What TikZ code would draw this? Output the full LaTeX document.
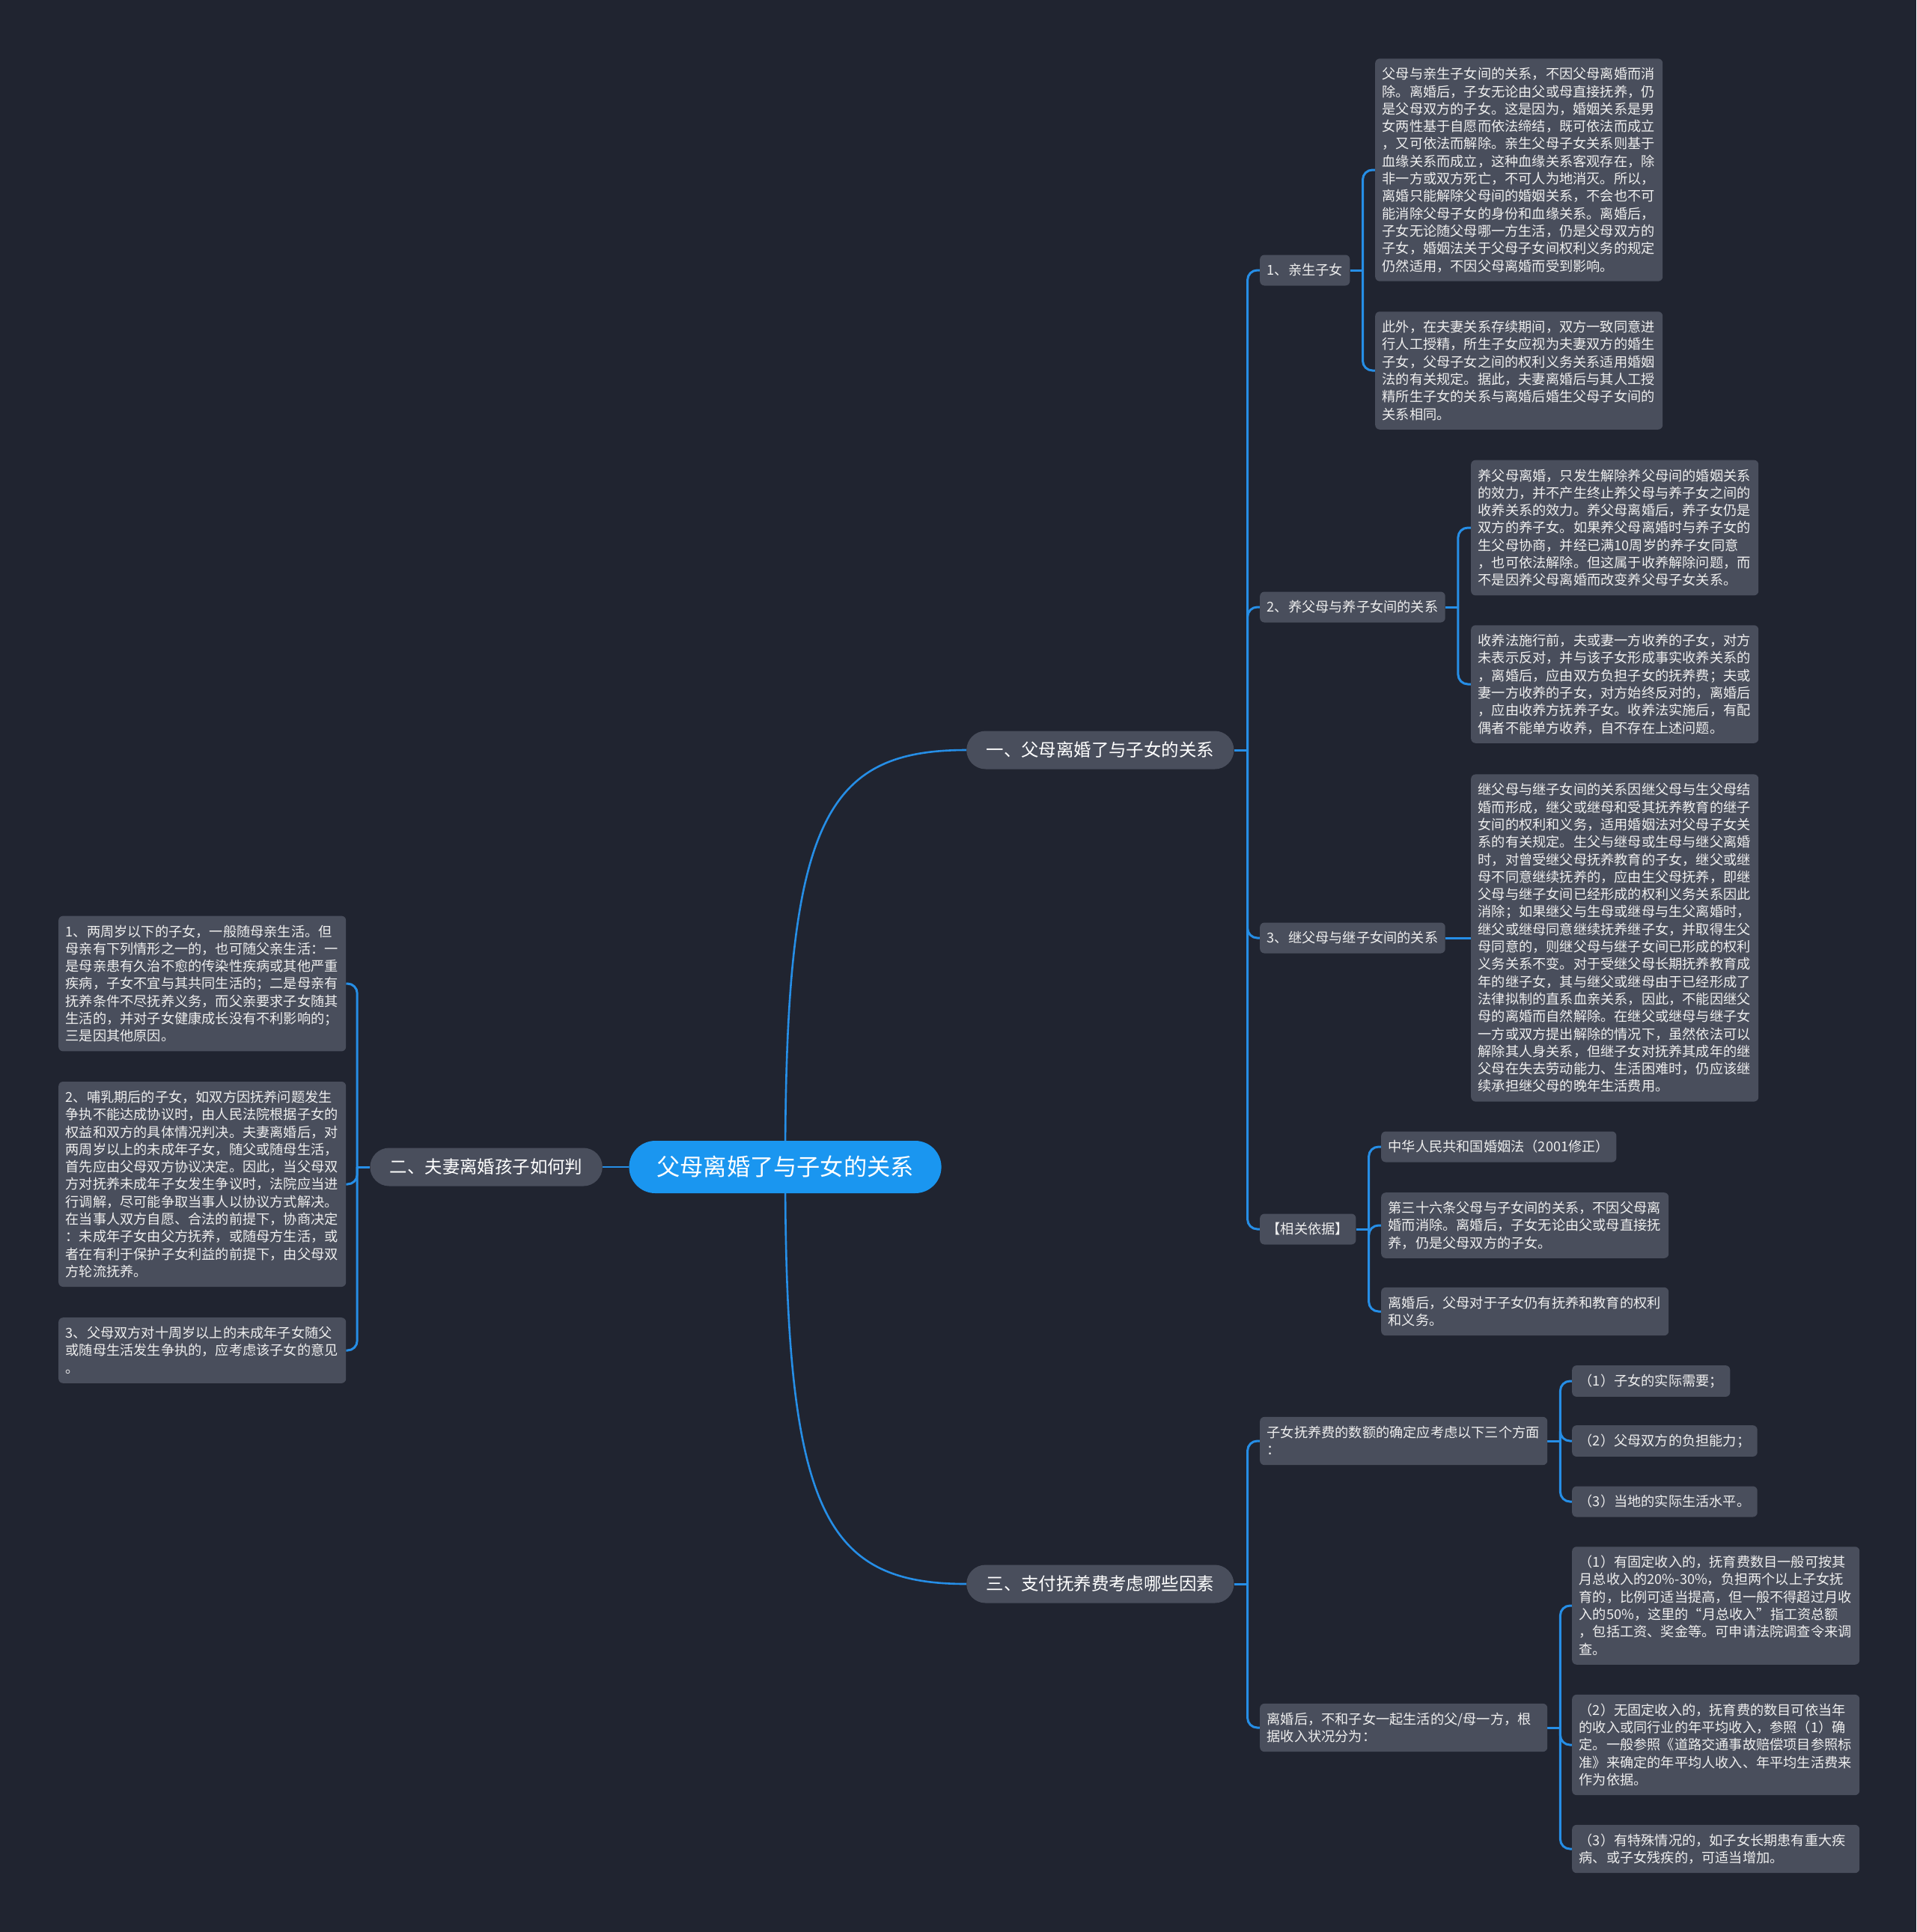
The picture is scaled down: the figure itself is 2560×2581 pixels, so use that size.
\documentclass[tikz,border=0pt]{standalone}
\usepackage{fontspec}
\setmainfont{Noto Sans CJK SC}
\usetikzlibrary{calc}
\pgfdeclarelayer{bgl}
\pgfsetlayers{bgl,main}
\definecolor{bgc}{RGB}{32,36,48}
\definecolor{boxc}{RGB}{73,78,92}
\definecolor{rootc}{RGB}{26,150,240}
\definecolor{linec}{RGB}{38,142,230}
\definecolor{txtc}{RGB}{238,238,238}
\newcommand\zstrut{\rule[-0.12em]{0pt}{1em}}
\begin{document}
\begin{tikzpicture}[x=1pt,y=-1pt,
 leaf/.style={fill=boxc, rounded corners=6pt, inner xsep=9.5pt, inner ysep=11.4pt, text=txtc,
   font=\fontsize{18.2}{23.3}\selectfont, align=left, anchor=west,
   execute at begin node=\zstrut, execute at end node=\zstrut},
 wide/.style={leaf, text width=365pt},
 pill/.style={fill=boxc, rounded corners=25.5pt, inner xsep=26.5pt, inner ysep=0pt, minimum height=51pt,
   text=white, font=\fontsize{23.4}{28}\selectfont, execute at begin node=\zstrut},
 rootn/.style={fill=rootc, rounded corners=35pt, inner xsep=37pt, inner ysep=0pt, minimum height=70pt,
   text=white, font=\fontsize{31.2}{36}\selectfont, execute at begin node=\zstrut},
 conn/.style={draw=linec, line width=3pt, rounded corners=13pt},
 curv/.style={draw=linec, line width=2.6pt},
]
\path[use as bounding box] (0,0) rectangle (2560,2581);
\begin{pgfonlayer}{bgl}
\fill[bgc] (0,0) rectangle (2560,2581);
\end{pgfonlayer}

% root and main branches
\node[rootn] (root) at (1049,1559) {父母离婚了与子女的关系};
\node[pill, anchor=west] (b1) at (1291,1002) {一、父母离婚了与子女的关系};
\node[pill, anchor=east] (b2) at (805,1559) {二、夫妻离婚孩子如何判};
\node[pill, anchor=west] (b3) at (1291,2116) {三、支付抚养费考虑哪些因素};

% branch 1
\node[leaf] (c1) at (1683,361) {1、亲生子女};
\node[leaf] (c2) at (1683,811) {2、养父母与养子女间的关系};
\node[leaf] (c3) at (1683,1253) {3、继父母与继子女间的关系};
\node[leaf] (c4) at (1683,1642) {【相关依据】};

\node[wide] (l1a) at (1837,227) {父母与亲生子女间的关系，不因父母离婚而消\\除。离婚后，子女无论由父或母直接抚养，仍\\是父母双方的子女。这是因为，婚姻关系是男\\女两性基于自愿而依法缔结，既可依法而成立\\，又可依法而解除。亲生父母子女关系则基于\\血缘关系而成立，这种血缘关系客观存在，除\\非一方或双方死亡，不可人为地消灭。所以，\\离婚只能解除父母间的婚姻关系，不会也不可\\能消除父母子女的身份和血缘关系。离婚后，\\子女无论随父母哪一方生活，仍是父母双方的\\子女，婚姻法关于父母子女间权利义务的规定\\仍然适用，不因父母离婚而受到影响。};
\node[wide] (l1b) at (1837,495) {此外，在夫妻关系存续期间，双方一致同意进\\行人工授精，所生子女应视为夫妻双方的婚生\\子女，父母子女之间的权利义务关系适用婚姻\\法的有关规定。据此，夫妻离婚后与其人工授\\精所生子女的关系与离婚后婚生父母子女间的\\关系相同。};

\node[wide] (l2a) at (1965,705) {养父母离婚，只发生解除养父母间的婚姻关系\\的效力，并不产生终止养父母与养子女之间的\\收养关系的效力。养父母离婚后，养子女仍是\\双方的养子女。如果养父母离婚时与养子女的\\生父母协商，并经已满10周岁的养子女同意\\，也可依法解除。但这属于收养解除问题，而\\不是因养父母离婚而改变养父母子女关系。};
\node[wide] (l2b) at (1965,914) {收养法施行前，夫或妻一方收养的子女，对方\\未表示反对，并与该子女形成事实收养关系的\\，离婚后，应由双方负担子女的抚养费；夫或\\妻一方收养的子女，对方始终反对的，离婚后\\，应由收养方抚养子女。收养法实施后，有配\\偶者不能单方收养，自不存在上述问题。};

\node[wide] (l3) at (1965,1253) {继父母与继子女间的关系因继父母与生父母结\\婚而形成，继父或继母和受其抚养教育的继子\\女间的权利和义务，适用婚姻法对父母子女关\\系的有关规定。生父与继母或生母与继父离婚\\时，对曾受继父母抚养教育的子女，继父或继\\母不同意继续抚养的，应由生父母抚养，即继\\父母与继子女间已经形成的权利义务关系因此\\消除；如果继父与生母或继母与生父离婚时，\\继父或继母同意继续抚养继子女，并取得生父\\母同意的，则继父母与继子女间已形成的权利\\义务关系不变。对于受继父母长期抚养教育成\\年的继子女，其与继父或继母由于已经形成了\\法律拟制的直系血亲关系，因此，不能因继父\\母的离婚而自然解除。在继父或继母与继子女\\一方或双方提出解除的情况下，虽然依法可以\\解除其人身关系，但继子女对抚养其成年的继\\父母在失去劳动能力、生活困难时，仍应该继\\续承担继父母的晚年生活费用。};

\node[leaf] (l4a) at (1845,1532) {中华人民共和国婚姻法（2001修正）};
\node[wide] (l4b) at (1845,1637) {第三十六条父母与子女间的关系，不因父母离\\婚而消除。离婚后，子女无论由父或母直接抚\\养，仍是父母双方的子女。};
\node[wide] (l4c) at (1845,1752) {离婚后，父母对于子女仍有抚养和教育的权利\\和义务。};

% branch 2
\node[wide] (m1) at (78,1314) {1、两周岁以下的子女，一般随母亲生活。但\\母亲有下列情形之一的，也可随父亲生活：一\\是母亲患有久治不愈的传染性疾病或其他严重\\疾病，子女不宜与其共同生活的；二是母亲有\\抚养条件不尽抚养义务，而父亲要求子女随其\\生活的，并对子女健康成长没有不利影响的；\\三是因其他原因。};
\node[wide] (m2) at (78,1582) {2、哺乳期后的子女，如双方因抚养问题发生\\争执不能达成协议时，由人民法院根据子女的\\权益和双方的具体情况判决。夫妻离婚后，对\\两周岁以上的未成年子女，随父或随母生活，\\首先应由父母双方协议决定。因此，当父母双\\方对抚养未成年子女发生争议时，法院应当进\\行调解，尽可能争取当事人以协议方式解决。\\在当事人双方自愿、合法的前提下，协商决定\\：未成年子女由父方抚养，或随母方生活，或\\者在有利于保护子女利益的前提下，由父母双\\方轮流抚养。};
\node[wide] (m3) at (78,1804) {3、父母双方对十周岁以上的未成年子女随父\\或随母生活发生争执的，应考虑该子女的意见\\。};

% branch 3
\node[wide] (c5) at (1683,1925) {子女抚养费的数额的确定应考虑以下三个方面\\：};
\node[wide] (c6) at (1683,2308) {离婚后，不和子女一起生活的父/母一方，根\\据收入状况分为：};

\node[leaf] (l5a) at (2100,1845) {（1）子女的实际需要；};
\node[leaf] (l5b) at (2100,1925) {（2）父母双方的负担能力；};
\node[leaf] (l5c) at (2100,2006) {（3）当地的实际生活水平。};

\node[wide] (l6a) at (2100,2145) {（1）有固定收入的，抚育费数目一般可按其\\月总收入的20\%-30\%，负担两个以上子女抚\\育的，比例可适当提高，但一般不得超过月收\\入的50\%，这里的“月总收入”指工资总额\\，包括工资、奖金等。可申请法院调查令来调\\查。};
\node[wide] (l6b) at (2100,2331) {（2）无固定收入的，抚育费的数目可依当年\\的收入或同行业的年平均收入，参照（1）确\\定。一般参照《道路交通事故赔偿项目参照标\\准》来确定的年平均人收入、年平均生活费来\\作为依据。};
\node[wide] (l6c) at (2100,2470) {（3）有特殊情况的，如子女长期患有重大疾\\病、或子女残疾的，可适当增加。};

% connectors
\begin{pgfonlayer}{bgl}
\draw[curv] (root.center) .. controls +(0,-459) and +(-191,0) .. (b1.west);
\draw[curv] (root.center) .. controls +(0,459) and +(-191,0) .. (b3.west);
\draw[curv] (root.west) -- (b2.east);

\draw[conn] (b1.east) -- ++(18,0);
\foreach \nn in {c1,c2,c3,c4} \draw[conn] ($(b1.east)+(18,0)$) |- (\nn.west);

\draw[conn] (c1.east) -- ++(17,0);
\foreach \nn in {l1a,l1b} \draw[conn] ($(c1.east)+(17,0)$) |- (\nn.west);
\draw[conn] (c2.east) -- ++(17,0);
\foreach \nn in {l2a,l2b} \draw[conn] ($(c2.east)+(17,0)$) |- (\nn.west);
\draw[conn] (c3.east) -- (l3.west);
\draw[conn] (c4.east) -- ++(17,0);
\foreach \nn in {l4a,l4b,l4c} \draw[conn] ($(c4.east)+(17,0)$) |- (\nn.west);

\draw[conn] (b2.west) -- ++(-17,0);
\foreach \nn in {m1,m2,m3} \draw[conn] ($(b2.west)+(-17,0)$) |- (\nn.east);

\draw[conn] (b3.east) -- ++(18,0);
\foreach \nn in {c5,c6} \draw[conn] ($(b3.east)+(18,0)$) |- (\nn.west);

\draw[conn] (c5.east) -- ++(17,0);
\foreach \nn in {l5a,l5b,l5c} \draw[conn] ($(c5.east)+(17,0)$) |- (\nn.west);
\draw[conn] (c6.east) -- ++(17,0);
\foreach \nn in {l6a,l6b,l6c} \draw[conn] ($(c6.east)+(17,0)$) |- (\nn.west);
\end{pgfonlayer}
\end{tikzpicture}
\end{document}
